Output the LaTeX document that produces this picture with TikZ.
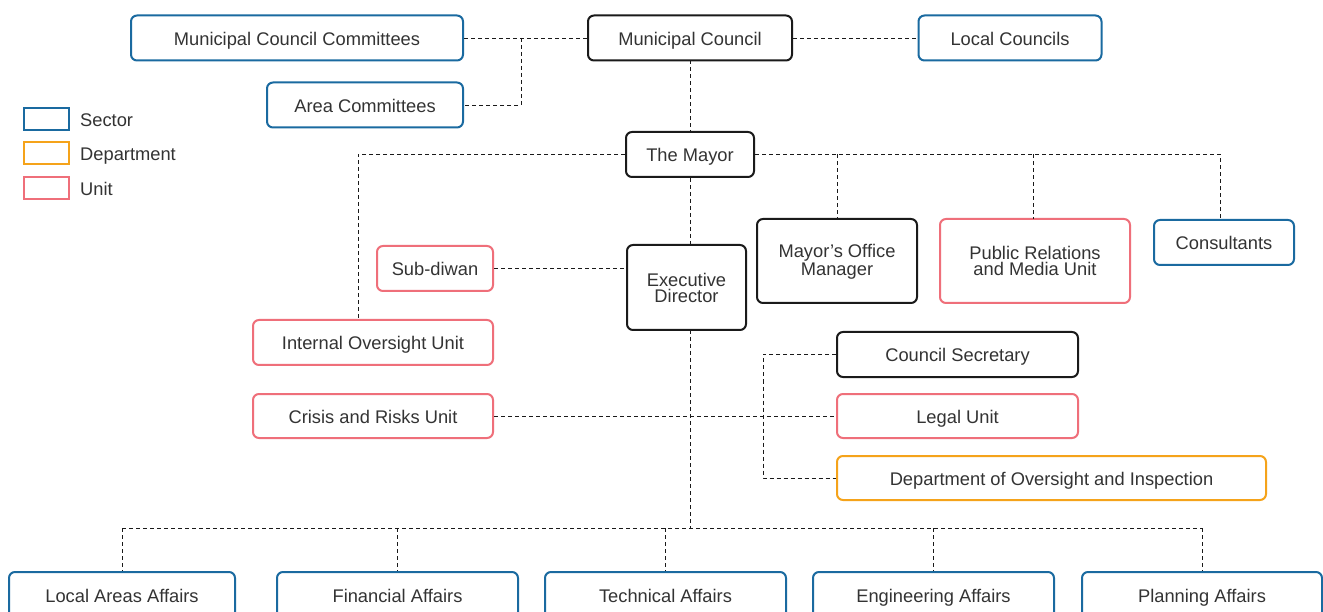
\documentclass[tikz,border=0pt]{standalone}
\usepackage{fontspec}
\setmainfont{Liberation Sans}
\definecolor{sectorc}{HTML}{1A6AA0}
\definecolor{deptc}{HTML}{F5A31A}
\definecolor{unitc}{HTML}{EF6F7A}
\definecolor{txtc}{HTML}{333333}
\definecolor{boxk}{HTML}{1A1A1A}
\tikzset{
  bx/.style={draw, rounded corners=6pt, line width=2pt, inner sep=0pt, align=center,
    text=txtc, font=\fontsize{18.3}{16}\selectfont},
  one/.style={text height=17pt, text depth=2pt},
  blk/.style={bx, draw=boxk},
  sec/.style={bx, draw=sectorc},
  dep/.style={bx, draw=deptc},
  uni/.style={bx, draw=unitc},
  lnk/.style={draw=boxk, line width=0.9pt, dash pattern=on 4pt off 3pt},
  leg/.style={draw, line width=2pt, minimum width=45pt, minimum height=22pt, inner sep=0pt},
  legt/.style={anchor=west, text=txtc, font=\fontsize{18.3}{16}\selectfont, inner sep=0pt, one}
}
\begin{document}
\begin{tikzpicture}[x=1pt,y=-1pt]
\clip (0,0) rectangle (1323,612);
\fill[white] (0,0) rectangle (1323,612);

% top row
\node[sec, one, minimum width=332pt, minimum height=45pt] (mcc) at (297,38) {Municipal Council Committees};
\node[blk, one, minimum width=204pt, minimum height=45pt] (mc) at (690,38) {Municipal Council};
\node[sec, one, minimum width=183pt, minimum height=45pt] (lc) at (1010,38) {Local Councils};
\node[sec, one, minimum width=196pt, minimum height=45pt] (ac) at (365,105) {Area Committees};

% legend
\node[leg, draw=sectorc] (ls) at (46.5,119) {};
\node[leg, draw=deptc] (ld) at (46.5,153.5) {};
\node[leg, draw=unitc] (lu) at (46.5,188) {};
\node[legt] (lst) at (80,119) {Sector};
\node[legt] (ldt) at (80,153.5) {Department};
\node[legt] (lut) at (80,188) {Unit};

% mayor level
\node[blk, one, minimum width=128pt, minimum height=45pt] (mayor) at (690,154.5) {The Mayor};
\node[uni, one, minimum width=116pt, minimum height=45pt] (sub) at (435,268.5) {Sub-diwan};
\node[blk, minimum width=119pt, minimum height=85pt] (ed) at (686.5,287.5) {Executive\\Director};
\node[blk, minimum width=160pt, minimum height=84pt] (mom) at (837,261) {\rule{0pt}{15pt}Mayor’s Office\\Manager};
\node[uni, minimum width=190pt, minimum height=84pt] (pr) at (1035,261) {\rule{0pt}{14pt}Public Relations\\and Media Unit};
\node[sec, one, minimum width=140pt, minimum height=45pt] (cons) at (1224,242.5) {Consultants};

\node[uni, one, minimum width=240pt, minimum height=45pt] (iou) at (373,342.5) {Internal Oversight Unit};
\node[blk, one, minimum width=241pt, minimum height=45pt] (cs) at (957.5,354.5) {Council Secretary};
\node[uni, one, minimum width=240pt, minimum height=44pt] (cru) at (373,416) {Crisis and Risks Unit};
\node[uni, one, minimum width=241pt, minimum height=44pt] (legal) at (957.5,416) {Legal Unit};
\node[dep, one, minimum width=429pt, minimum height=44pt] (doi) at (1051.5,478) {Department of Oversight and Inspection};

% bottom row
\node[sec, one, minimum width=226pt, minimum height=46pt] (laa) at (122,595) {Local Areas Affairs};
\node[sec, one, minimum width=241pt, minimum height=46pt] (fa) at (397.5,595) {Financial Affairs};
\node[sec, one, minimum width=241pt, minimum height=46pt] (ta) at (665.5,595) {Technical Affairs};
\node[sec, one, minimum width=241pt, minimum height=46pt] (ea) at (933.5,595) {Engineering Affairs};
\node[sec, one, minimum width=240pt, minimum height=46pt] (pa) at (1202,595) {Planning Affairs};

% coordinates
\coordinate (j1) at (521,38);
\coordinate (j2) at (521,105);
\coordinate (m1) at (358,154.5);
\coordinate (m2) at (1220,154.5);
\coordinate (b0) at (690,528);
\coordinate (bl) at (122,528);
\coordinate (br) at (1202,528);
\coordinate (k1) at (763,354.5);
\coordinate (k2) at (763,478);

% connectors
\draw[lnk] (mcc.east) -- (mc.west);
\draw[lnk] (j1) -- (j2) -- (ac.east);
\draw[lnk] (mc.east) -- (lc.west);
\draw[lnk] (690,60.5) -- (mayor.north);
\draw[lnk] (mayor.west) -- (m1) -- (358,320);
\draw[lnk] (mayor.east) -- (m2) -- (cons.north -| m2);
\draw[lnk] (mom.north |- m1) -- (mom.north);
\draw[lnk] (1033,154.5) -- (1033,219);
\draw[lnk] (mayor.south) -- (690,245);
\draw[lnk] (sub.east) -- (ed.west |- sub.east);
\draw[lnk] (690,330) -- (b0);
\draw[lnk] (bl) -- (br);
\draw[lnk] (bl) -- (laa.north);
\draw[lnk] (397.5,528) -- (fa.north);
\draw[lnk] (665.5,528) -- (ta.north);
\draw[lnk] (933.5,528) -- (ea.north);
\draw[lnk] (br) -- (pa.north);
\draw[lnk] (cru.east) -- (legal.west);
\draw[lnk] (cs.west) -- (k1) -- (k2) -- (doi.west);
\end{tikzpicture}
\end{document}
